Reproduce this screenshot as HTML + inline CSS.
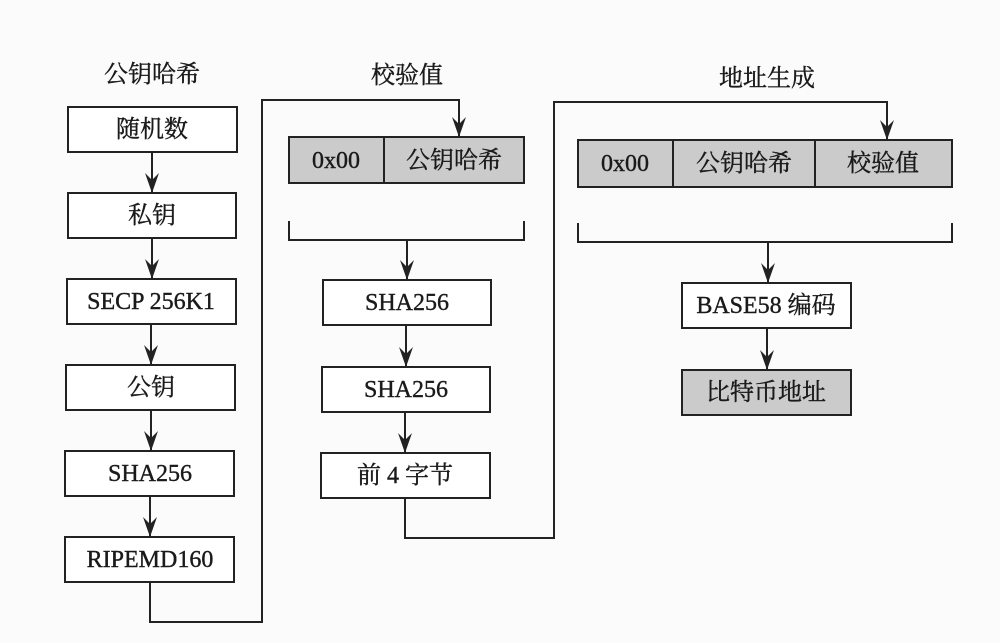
<!DOCTYPE html>
<html><head><meta charset="utf-8"><style>
html,body{margin:0;padding:0;background:#fbfbfb;}
svg text{font-family:"Liberation Serif","Noto Serif CJK SC",serif;font-size:24px;fill:#1a1a1a;text-anchor:middle;dominant-baseline:central;stroke:#1a1a1a;stroke-width:0.4;}
</style></head><body>
<svg width="1000" height="638" viewBox="0 0 1000 638" xmlns="http://www.w3.org/2000/svg">
<defs><marker id="a" markerWidth="20" markerHeight="14" refX="20" refY="7" orient="auto" markerUnits="userSpaceOnUse"><path d="M0,0 L7,7 L0,14 L20,7 Z" fill="#222" stroke="none"/></marker></defs>
<g stroke="#222" stroke-width="2" fill="none">
<rect x="68" y="107" width="169" height="45" fill="#fff"/>
<rect x="68" y="193" width="168" height="45" fill="#fff"/>
<rect x="67" y="279" width="169" height="45" fill="#fff"/>
<rect x="66" y="365" width="169" height="45" fill="#fff"/>
<rect x="65" y="451" width="169" height="45" fill="#fff"/>
<rect x="65" y="537" width="169" height="45" fill="#fff"/>
<line x1="152" y1="152" x2="152" y2="193" marker-end="url(#a)"/>
<line x1="152" y1="238" x2="152" y2="279" marker-end="url(#a)"/>
<line x1="151" y1="324" x2="151" y2="365" marker-end="url(#a)"/>
<line x1="151" y1="410" x2="151" y2="451" marker-end="url(#a)"/>
<line x1="150" y1="496" x2="150" y2="537" marker-end="url(#a)"/>
<polyline points="150,582 150,622 262,622 262,100 459,100 459,137" marker-end="url(#a)"/>
<rect x="289" y="137" width="235" height="46" fill="#cbcbcb"/>
<line x1="384" y1="137" x2="384" y2="183"/>
<polyline points="289,221 289,240 524,240 524,221"/>
<line x1="407" y1="240" x2="407" y2="280" marker-end="url(#a)"/>
<rect x="323" y="280" width="168" height="45" fill="#fff"/>
<rect x="322" y="367" width="168" height="45" fill="#fff"/>
<rect x="321" y="453" width="169" height="45" fill="#fff"/>
<line x1="406" y1="325" x2="406" y2="367" marker-end="url(#a)"/>
<line x1="405" y1="412" x2="405" y2="453" marker-end="url(#a)"/>
<polyline points="405,498 405,538 554,538 554,102 887,102 887,140" marker-end="url(#a)"/>
<rect x="578" y="140" width="374" height="47" fill="#cbcbcb"/>
<line x1="673" y1="140" x2="673" y2="187"/>
<line x1="815" y1="140" x2="815" y2="187"/>
<polyline points="578,223 578,242 952,242 952,223"/>
<line x1="768" y1="242" x2="768" y2="283" marker-end="url(#a)"/>
<rect x="682" y="283" width="169" height="45" fill="#fff"/>
<line x1="767" y1="328" x2="767" y2="370" marker-end="url(#a)"/>
<rect x="682" y="370" width="169" height="45" fill="#cbcbcb"/>
</g>
<text x="152" y="75">公钥哈希</text>
<text x="407" y="76">校验值</text>
<text x="767" y="79">地址生成</text>
<text x="152" y="130">随机数</text>
<text x="152" y="216">私钥</text>
<text x="151" y="302">SECP 256K1</text>
<text x="151" y="388">公钥</text>
<text x="150" y="474">SHA256</text>
<text x="150" y="560">RIPEMD160</text>
<text x="336" y="161">0x00</text>
<text x="454" y="161">公钥哈希</text>
<text x="407" y="303">SHA256</text>
<text x="406" y="390">SHA256</text>
<text x="405" y="476">前 4 字节</text>
<text x="625" y="164">0x00</text>
<text x="744" y="164">公钥哈希</text>
<text x="883" y="164">校验值</text>
<text x="766" y="306">BASE58 编码</text>
<text x="766" y="393">比特币地址</text>
</svg>
</body></html>
